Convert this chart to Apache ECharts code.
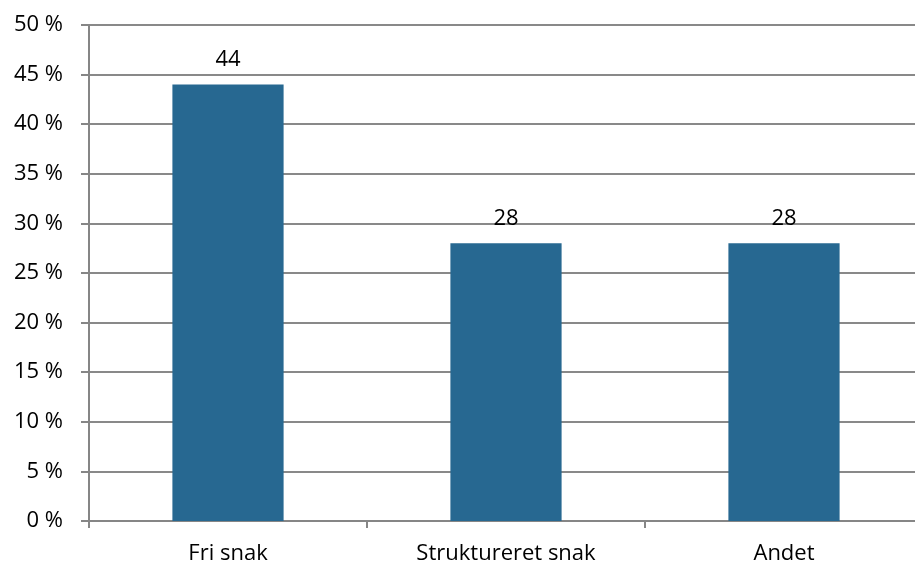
<!DOCTYPE html>
<html>
<head>
<meta charset="utf-8">
<script src="https://cdn.jsdelivr.net/npm/echarts@6/dist/echarts.min.js"></script>
<style>
html,body{margin:0;padding:0;background:#fff;}
#chart{width:915px;height:566px;}
</style>
</head>
<body>
<div id="chart"></div>
<script>
var categories = ['Fri snak', 'Struktureret snak', 'Andet'];
var values = [44, 28, 28];
var yTicks = {min: 0, max: 50, interval: 5};

var chart = echarts.init(document.getElementById('chart'), null, {renderer: 'canvas'});
var font = '"Open Sans", sans-serif';
chart.setOption({
  animation: false,
  backgroundColor: '#ffffff',
  grid: {left: 89, width: 834, top: 25, bottom: 45, containLabel: false, outerBoundsMode: 'none'},
  xAxis: {
    type: 'category',
    data: categories,
    axisLine: {show: true, lineStyle: {color: '#868686', width: 2}},
    axisTick: {show: true, length: 7, lineStyle: {color: '#868686', width: 2}},
    axisLabel: {color: '#000', fontSize: 22, fontFamily: font, margin: 22},
    splitLine: {show: false}
  },
  yAxis: {
    type: 'value',
    min: yTicks.min, max: yTicks.max, interval: yTicks.interval,
    axisLine: {show: true, lineStyle: {color: '#868686', width: 2}},
    axisTick: {show: true, length: 8, lineStyle: {color: '#868686', width: 2}},
    axisLabel: {color: '#000', fontSize: 22, fontFamily: font, margin: 26, formatter: '{value} %'},
    splitLine: {show: true, lineStyle: {color: '#898989', width: 2}}
  },
  series: [{
    type: 'bar',
    data: values,
    barWidth: '40%',
    itemStyle: {color: '#276891'},
    label: {show: true, position: 'top', distance: 14, color: '#000', fontSize: 22, fontFamily: font}
  }]
});
</script>
</body>
</html>
